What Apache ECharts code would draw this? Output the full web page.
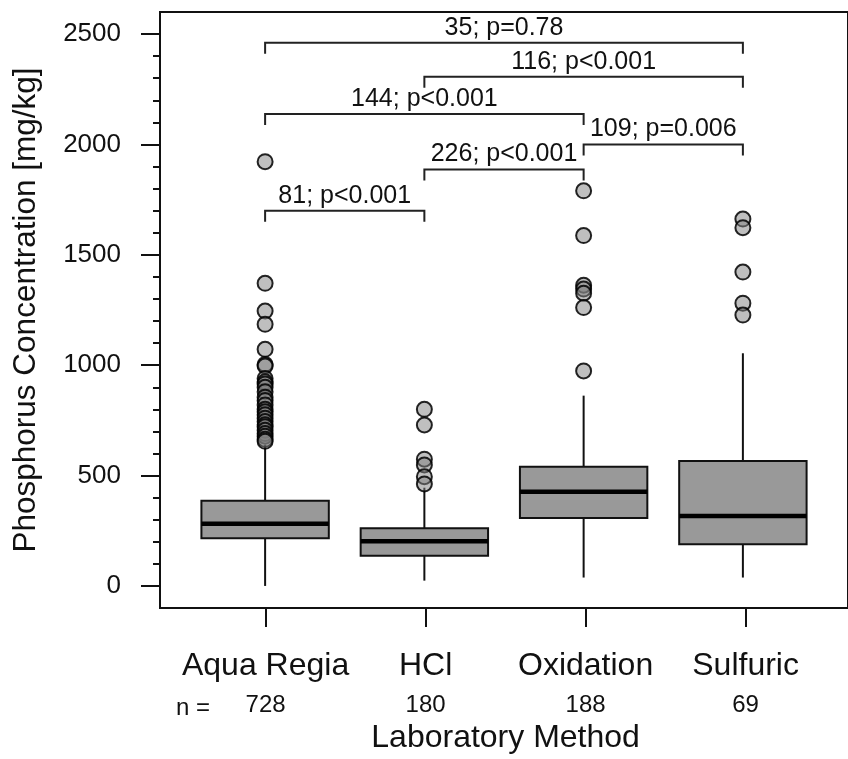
<!DOCTYPE html>
<html>
<head>
<meta charset="utf-8">
<script src="https://cdn.jsdelivr.net/npm/echarts@6/dist/echarts.min.js"></script>
<style>html,body{margin:0;padding:0;background:#fff}#c{width:848px;height:759px}</style>
</head>
<body>
<div id="c"></div>
<script>
// ---- data ----
var categories = ['Aqua Regia', 'HCl', 'Oxidation', 'Sulfuric'];
var nCounts = [728, 180, 188, 69];
var whiskerLow = [0, 24, 38, 38];
var q1 = [216, 137, 308, 189];
var median = [282, 202, 427, 317];
var q3 = [386, 261, 540, 566];
var whiskerHigh = [640, 445, 862, 1054];
var outliersAqua = [1922, 1371, 1245, 1185, 1072, 1003, 996, 940, 925, 915, 900, 880, 855, 840, 820, 800, 789, 775, 760, 745, 730, 721, 705, 690, 678, 664, 655];
var outliersHCl = [800, 729, 574, 548, 495, 462];
var outliersOx = [1790, 1587, 1362, 1345, 1326, 1261, 974];
var outliersSulf = [1662, 1623, 1422, 1281, 1227];
var bracketFrom = [1, 2, 1, 3, 2, 1];
var bracketTo = [4, 4, 3, 4, 3, 2];
var bracketLevel = [2461, 2307, 2138, 2000, 1887, 1700];
var bracketLabels = ['35; p=0.78', '116; p<0.001', '144; p<0.001', '109; p=0.006', '226; p<0.001', '81; p<0.001'];
var yTicks = [0, 500, 1000, 1500, 2000, 2500];

// ---- build ----
var FONT = "'Liberation Sans', Arial, Helvetica, sans-serif";
var boxData = categories.map(function (c, i) {
  return [i + 1, whiskerLow[i], q1[i], median[i], q3[i], whiskerHigh[i]];
});
var outlierGroups = [outliersAqua, outliersHCl, outliersOx, outliersSulf];
var outlierData = [];
outlierGroups.forEach(function (arr, i) {
  arr.forEach(function (v) { outlierData.push([i + 1, v]); });
});
var bracketData = bracketFrom.map(function (f, i) {
  return [f, bracketTo[i], bracketLevel[i], i];
});

var chart = echarts.init(document.getElementById('c'), null, {renderer: 'canvas'});
var plotTop = 12, plotH = 596, yMinExt = -100, yMaxExt = 2600;
var pxPerUnit = plotH / (yMaxExt - yMinExt);
var y0px = plotTop + (yMaxExt - 0) * pxPerUnit;
var y2500px = plotTop + (yMaxExt - 2500) * pxPerUnit;

chart.setOption({
  animation: false,
  backgroundColor: '#fff',
  textStyle: {fontFamily: FONT, color: '#111'},
  grid: [
    {left: 160, top: plotTop, width: 692, height: plotH, show: true, borderColor: '#111', borderWidth: 2, backgroundColor: 'transparent', containLabel: false},
    {left: 160, top: y2500px, width: 691.2, height: y0px - y2500px, containLabel: false},
    {left: 185.6, top: plotTop, width: 640, height: plotH, containLabel: false}
  ],
  xAxis: [
    {type: 'value', gridIndex: 0, show: false, min: 0, max: 1},
    {type: 'value', gridIndex: 1, show: false, min: 0.34, max: 4.66},
    {type: 'category', gridIndex: 2, data: categories, boundaryGap: true,
     axisLine: {show: false},
     axisTick: {show: true, alignWithLabel: true, length: 20, lineStyle: {color: '#111', width: 2}},
     axisLabel: {
       margin: 39, interval: 0,
       formatter: function (v, idx) { return '{c|' + v + '}\n{n|' + nCounts[idx] + '}'; },
       rich: {
         c: {fontSize: 32, lineHeight: 41, fontFamily: FONT, color: '#111'},
         n: {fontSize: 24, lineHeight: 36, fontFamily: FONT, color: '#111'}
       }
     },
     name: 'Laboratory Method', nameLocation: 'middle', nameGap: 96,
     nameTextStyle: {fontSize: 32, fontFamily: FONT, color: '#111'},
     splitLine: {show: false}}
  ],
  yAxis: [
    {type: 'value', gridIndex: 0, show: false, min: 0, max: 1},
    {type: 'value', gridIndex: 1, min: 0, max: 2500, interval: 500,
     axisLine: {show: false},
     axisTick: {show: true, inside: false, length: 19, lineStyle: {color: '#111', width: 2}},
     minorTick: {show: true, splitNumber: 5, length: 7, lineStyle: {color: '#111', width: 2}},
     axisLabel: {margin: 39, fontSize: 26, fontFamily: FONT, color: '#111',
       formatter: function (v) { return yTicks.indexOf(v) >= 0 ? String(v) : ''; }},
     splitLine: {show: false},
     name: 'Phosphorus Concentration [mg/kg]', nameLocation: 'middle', nameGap: 118, nameRotate: 90,
     nameTextStyle: {fontSize: 31.5, fontFamily: FONT, color: '#111'}},
    {type: 'value', gridIndex: 2, show: false, min: 0, max: 1}
  ],
  series: [
    {
      type: 'custom', xAxisIndex: 1, yAxisIndex: 1, data: boxData, z: 2,
      renderItem: function (params, api) {
        var x = api.value(0);
        var halfW = api.size([0.8, 0])[0] / 2;
        var pLow = api.coord([x, api.value(1)]);
        var pQ1 = api.coord([x, api.value(2)]);
        var pMed = api.coord([x, api.value(3)]);
        var pQ3 = api.coord([x, api.value(4)]);
        var pHigh = api.coord([x, api.value(5)]);
        var lineStyle = {stroke: '#111', lineWidth: 2};
        return {
          type: 'group',
          children: [
            {type: 'line', shape: {x1: pLow[0], y1: pLow[1], x2: pQ1[0], y2: pQ1[1]}, style: lineStyle},
            {type: 'line', shape: {x1: pQ3[0], y1: pQ3[1], x2: pHigh[0], y2: pHigh[1]}, style: lineStyle},
            {type: 'rect', shape: {x: pQ1[0] - halfW, y: pQ3[1], width: 2 * halfW, height: pQ1[1] - pQ3[1]},
             style: {fill: '#999999', stroke: '#111', lineWidth: 2}},
            {type: 'line', shape: {x1: pMed[0] - halfW, y1: pMed[1], x2: pMed[0] + halfW, y2: pMed[1]},
             style: {stroke: '#000', lineWidth: 4.5}}
          ]
        };
      }
    },
    {
      type: 'scatter', xAxisIndex: 1, yAxisIndex: 1, data: outlierData, z: 3,
      symbol: 'circle', symbolSize: 15,
      itemStyle: {color: 'rgba(128,128,128,0.5)', borderColor: 'rgba(0,0,0,0.85)', borderWidth: 2, opacity: 1}
    },
    {
      type: 'custom', xAxisIndex: 1, yAxisIndex: 1, data: bracketData, z: 4,
      renderItem: function (params, api) {
        var a = api.coord([api.value(0), api.value(2)]);
        var b = api.coord([api.value(1), api.value(2)]);
        var drop = api.size([0, 50])[1];
        var label = bracketLabels[api.value(3)];
        return {
          type: 'group',
          children: [
            {type: 'polyline', shape: {points: [[a[0], a[1] + drop], [a[0], a[1]], [b[0], b[1]], [b[0], b[1] + drop]]},
             style: {stroke: '#222', lineWidth: 2, fill: null}},
            {type: 'text', x: (a[0] + b[0]) / 2, y: a[1] - 15,
             style: {text: label, font: '25px ' + FONT, fill: '#111', align: 'center', verticalAlign: 'middle'}}
          ]
        };
      }
    }
  ],
  graphic: [
    {type: 'text', left: 176, top: 696, style: {text: 'n =', font: '24px ' + FONT, fill: '#111'}}
  ]
});
</script>
</body>
</html>
